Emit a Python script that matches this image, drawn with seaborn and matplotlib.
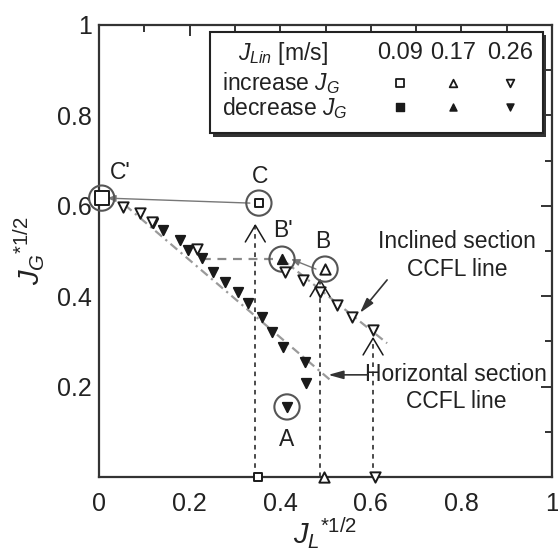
import numpy as np
import pandas as pd
import matplotlib
matplotlib.use("Agg")
import matplotlib.pyplot as plt
import seaborn as sns
from matplotlib.patches import Rectangle
from matplotlib.ticker import MultipleLocator, FuncFormatter

# ---------------- data ----------------
# J_Lin = 0.09, increase J_G (open squares)
sq_inc_x = [0.006, 0.353, 0.351]
sq_inc_y = [0.617, 0.606, 0.0]
# J_Lin = 0.17, increase J_G (open up-triangles)
tri_inc_x = [0.499, 0.497]
tri_inc_y = [0.460, 0.0]
# J_Lin = 0.17, decrease J_G (filled up-triangles)
tri_dec_x = [0.404]
tri_dec_y = [0.482]
# J_Lin = 0.26, increase J_G (open down-triangles)
dtri_inc_x = [0.053, 0.091, 0.118, 0.216, 0.411, 0.450, 0.488, 0.525, 0.558, 0.605, 0.609]
dtri_inc_y = [0.597, 0.584, 0.565, 0.505, 0.454, 0.436, 0.409, 0.381, 0.354, 0.325, 0.0]
# J_Lin = 0.26, decrease J_G (filled down-triangles)
dtri_dec_x = [0.119, 0.141, 0.179, 0.196, 0.227, 0.252, 0.278, 0.307, 0.329, 0.360,
              0.382, 0.406, 0.455, 0.457, 0.415]
dtri_dec_y = [0.562, 0.546, 0.524, 0.502, 0.485, 0.454, 0.431, 0.409, 0.385, 0.354,
              0.321, 0.288, 0.254, 0.208, 0.155]

# highlighted states
state_names = ["C'", "C", "B'", "B", "A"]
state_x = [0.006, 0.353, 0.404, 0.499, 0.415]
state_y = [0.617, 0.606, 0.482, 0.460, 0.155]
state_label_x = [0.046, 0.355, 0.406, 0.494, 0.413]
state_label_y = [0.673, 0.664, 0.546, 0.520, 0.084]

# CCFL lines
horiz_ccfl_x = [0.057, 0.510]
horiz_ccfl_y = [0.602, 0.215]
incl_ccfl_x = [0.404, 0.636]
incl_ccfl_y = [0.482, 0.296]

# vertical dashed onset lines
onset_x = [0.345, 0.488, 0.605]
onset_top = [0.557, 0.436, 0.307]

legend_header = ["0.09", "0.17", "0.26"]

# ---------------- style ----------------
sns.set_style("white")
plt.rcParams["font.family"] = ["Liberation Sans", "DejaVu Sans"]
plt.rcParams["mathtext.fontset"] = "custom"
plt.rcParams["mathtext.rm"] = "Liberation Sans"
plt.rcParams["mathtext.it"] = "Liberation Sans:italic"
TXT = "#222222"
FS = 16.5

fig = plt.figure(figsize=(5.58, 5.54), dpi=100)
ax = fig.add_axes([99 / 558, 1 - 477 / 554, 453 / 558, 452 / 554])

def scat(x, y, marker, filled, size):
    df = pd.DataFrame({"x": x, "y": y})
    sns.scatterplot(data=df, x="x", y="y", ax=ax, marker=marker, s=size,
                    facecolor=("#1a1a1a" if filled else "white"),
                    edgecolor="#1a1a1a", linewidth=1.4, zorder=4, clip_on=False,
                    legend=False)

# CCFL lines (gray dash-dot)
ax.plot(horiz_ccfl_x, horiz_ccfl_y, color="#9a9a9a", lw=1.6, ls=(0, (4, 2, 1, 2)), zorder=2)
ax.plot(incl_ccfl_x, incl_ccfl_y, color="#9a9a9a", lw=1.6, ls=(0, (4, 2, 1, 2)), zorder=2)

# transitions C -> C', B -> B', B' -> left
ax.annotate("", xy=(state_x[0] + 0.012, state_y[0]), xytext=(state_x[1] - 0.02, state_y[1]),
            arrowprops=dict(arrowstyle="-|>,head_length=0.5,head_width=0.2", color="#777777",
                            lw=1.0, shrinkA=0, shrinkB=0), zorder=2)
ax.annotate("", xy=(state_x[2] + 0.02, state_y[2]), xytext=(state_x[3] - 0.02, state_y[3]),
            arrowprops=dict(arrowstyle="-|>,head_length=0.5,head_width=0.2", color="#777777",
                            lw=1.0, shrinkA=0, shrinkB=0), zorder=2)
ax.plot([state_x[2] - 0.02, 0.234], [state_y[2], state_y[2]], color="#8a8a8a", lw=1.6,
        ls=(0, (4, 3)), zorder=2)

# vertical dashed lines with open chevrons
for xv, yt in zip(onset_x, onset_top):
    ax.plot([xv, xv], [0, yt], color="#1a1a1a", lw=1.1, ls=(0, (3, 3)), zorder=2)
    ax.plot([xv - 0.022, xv, xv + 0.022], [yt - 0.037, yt, yt - 0.037],
            color="#1a1a1a", lw=1.1, zorder=3)

# data points
scat(dtri_dec_x, dtri_dec_y, "v", True, 45)
scat(dtri_inc_x, dtri_inc_y, "v", False, 55)
scat(tri_dec_x, tri_dec_y, "^", True, 45)
scat(tri_inc_x, tri_inc_y, "^", False, 55)
scat(sq_inc_x[1:], sq_inc_y[1:], "s", False, 40)
scat(sq_inc_x[:1], sq_inc_y[:1], "s", False, 90)

# state circles and labels
ax.scatter(state_x, state_y, s=330, facecolor="none", edgecolor="#555555", lw=1.5,
           zorder=3, clip_on=False)
for n, lx, ly in zip(state_names, state_label_x, state_label_y):
    ax.text(lx, ly, n, ha="center", va="center", fontsize=FS, color=TXT, zorder=6)

# text annotations
ax.text(0.79, 0.520, "Inclined section", ha="center", va="center", fontsize=FS, color=TXT)
ax.text(0.79, 0.458, "CCFL line", ha="center", va="center", fontsize=FS, color=TXT)
ax.text(0.789, 0.226, "Horizontal section", ha="center", va="center", fontsize=FS, color=TXT)
ax.text(0.789, 0.166, "CCFL line", ha="center", va="center", fontsize=FS, color=TXT)
ax.annotate("", xy=(0.576, 0.363), xytext=(0.636, 0.436),
            arrowprops=dict(arrowstyle="-|>,head_length=0.9,head_width=0.25", color="#333333",
                            lw=1.2, shrinkA=0, shrinkB=0))
ax.annotate("", xy=(0.506, 0.226), xytext=(0.592, 0.226),
            arrowprops=dict(arrowstyle="-|>,head_length=0.9,head_width=0.25", color="#333333",
                            lw=1.2, shrinkA=0, shrinkB=0))

# legend box
lx0, ly0, lw_, lh_ = 0.245, 0.761, 0.735, 0.224
ax.add_patch(Rectangle((lx0 + 0.007, ly0 - 0.008), lw_, lh_, transform=ax.transAxes,
                       facecolor="#333333", edgecolor="none", zorder=7, clip_on=False))
ax.add_patch(Rectangle((lx0, ly0), lw_, lh_, transform=ax.transAxes,
                       facecolor="white", edgecolor="#222222", lw=1.5, zorder=8, clip_on=False))
ax.text(0.406, 0.938, r"$J_{Lin}$ [m/s]", transform=ax.transAxes, ha="center", va="center",
        fontsize=FS, color=TXT, zorder=9)
col_x = [0.664, 0.781, 0.907]
for cx, h in zip(col_x, legend_header):
    ax.text(cx, 0.938, h, transform=ax.transAxes, ha="center", va="center",
            fontsize=FS + 0.5, color=TXT, zorder=9)
ax.text(0.272, 0.872, r"increase $J_G$", transform=ax.transAxes, ha="left", va="center",
        fontsize=FS, color=TXT, zorder=9)
ax.text(0.272, 0.816, r"decrease $J_G$", transform=ax.transAxes, ha="left", va="center",
        fontsize=FS, color=TXT, zorder=9)
for cx, m in zip(col_x, ["s", "^", "v"]):
    ax.scatter([cx], [0.872], transform=ax.transAxes, marker=m, s=30, facecolor="white",
               edgecolor="#1a1a1a", lw=1.3, zorder=9, clip_on=False)
    ax.scatter([cx], [0.818], transform=ax.transAxes, marker=m, s=26, facecolor="#1a1a1a",
               edgecolor="#1a1a1a", lw=1.0, zorder=9, clip_on=False)

# axes
ax.set_xlim(0, 1)
ax.set_ylim(0, 1)
ax.xaxis.set_major_locator(MultipleLocator(0.2))
ax.yaxis.set_major_locator(MultipleLocator(0.2))
ax.xaxis.set_minor_locator(MultipleLocator(0.1))
ax.yaxis.set_minor_locator(MultipleLocator(0.1))
ax.xaxis.set_major_formatter(FuncFormatter(lambda v, p: f"{v:g}"))
ax.yaxis.set_major_formatter(FuncFormatter(lambda v, p: "" if abs(v) < 1e-9 else f"{v:g}"))
ax.tick_params(which="both", direction="in", top=True, right=True, colors="#333333",
               width=1.4, labelcolor=TXT, labelsize=18)
ax.tick_params(which="major", length=8)
ax.tick_params(which="minor", length=5)
ax.tick_params(axis="x", which="major", pad=11)
ax.tick_params(axis="y", which="major", pad=5)
for sp in ax.spines.values():
    sp.set_color("#333333")
    sp.set_linewidth(1.6)
ax.set_xlabel(r"$J_L$$^{*1/2}$", fontsize=21, color=TXT)
ax.set_ylabel(r"$J_G$$^{*1/2}$", fontsize=21, color=TXT)
ax.xaxis.set_label_coords(0.5, -0.085)
ax.yaxis.set_label_coords(-0.115, 0.5)

fig.savefig("out.png", dpi=100)
